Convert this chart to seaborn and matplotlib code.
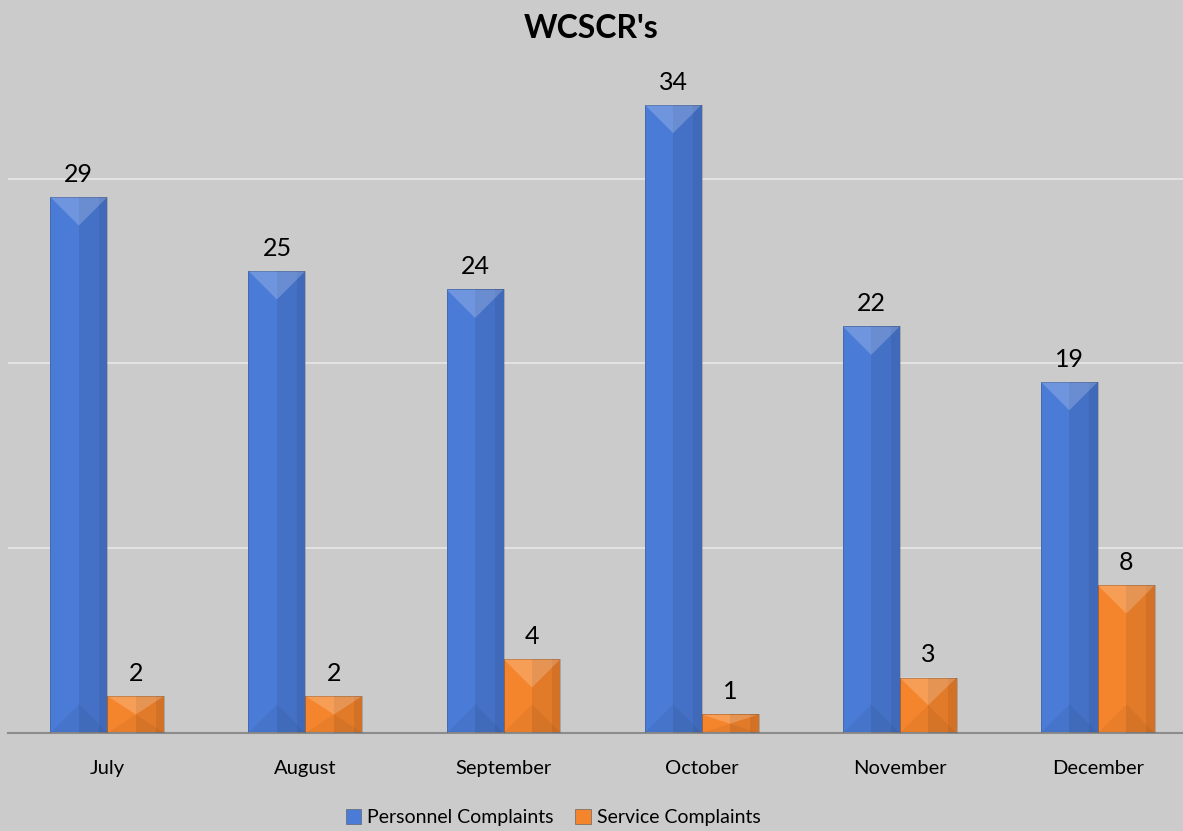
import matplotlib
matplotlib.use('Agg')

import matplotlib.pyplot as plt
import numpy as np
import pandas as pd
import seaborn as sns
from matplotlib.patches import Polygon, Rectangle

months = ['July', 'August', 'September', 'October', 'November', 'December']
personnel = [29, 25, 24, 34, 22, 19]
service = [2, 2, 4, 1, 3, 8]
series_names = ['Personnel Complaints', 'Service Complaints']

BG = '#cbcbcb'
BLUE = '#4a7bd6'
ORANGE = '#f5852d'

df = pd.DataFrame({
    'month': months * 2,
    'count': personnel + service,
    'series': [series_names[0]] * len(months) + [series_names[1]] * len(months),
})

sns.set_style('white')
plt.rcParams['font.family'] = ['Lato', 'DejaVu Sans']

fig = plt.figure(figsize=(11.83, 8.31), dpi=100, facecolor=BG)
ax = fig.add_axes([0.007, 0.118, 0.993, 0.845])
ax.set_facecolor(BG)

sns.barplot(
    data=df, x='month', y='count', hue='series', order=months,
    hue_order=series_names, palette=[BLUE, ORANGE], width=0.575,
    saturation=1, ax=ax, legend=False, edgecolor='none',
)

# bevel look: darker right half, light top triangle, dark bottom triangle
ppu = 18.47  # pixels per unit on y
px_per_x = 1175 / (5.43 + 0.5)
for bar in list(ax.patches):
    x, w, h = bar.get_x(), bar.get_width(), bar.get_height()
    tri = min((w / 2) * px_per_x / ppu, h / 2)
    ax.add_patch(Rectangle((x + w / 2, 0), w / 2, h, facecolor='black', alpha=0.08,
                           edgecolor='none', zorder=3))
    ax.add_patch(Rectangle((x + w * 0.85, 0), w * 0.15, h, facecolor='black', alpha=0.06,
                           edgecolor='none', zorder=3))
    ax.add_patch(Polygon([(x, h), (x + w, h), (x + w / 2, h - tri)],
                         facecolor='white', alpha=0.2, edgecolor='none', zorder=3))
    ax.add_patch(Polygon([(x, 0), (x + w, 0), (x + w / 2, tri)],
                         facecolor='black', alpha=0.05, edgecolor='none', zorder=3))
    ax.add_patch(Rectangle((x, 0), w, h, facecolor='none', edgecolor='#3a3a3a',
                           linewidth=0.6, alpha=0.3, zorder=4))

for cont in ax.containers:
    ax.bar_label(cont, padding=8, fontsize=18, color='black')

ax.set_ylim(0, 38)
ax.set_xlim(-0.5, 5.43)
ax.set_yticks([10, 20, 30])
ax.yaxis.grid(True, color='#e2e2e2', linewidth=1.5)
ax.set_axisbelow(True)
ax.tick_params(axis='y', left=False, labelleft=False)
ax.tick_params(axis='x', bottom=False, labelsize=14.5, pad=16, labelcolor='black')
ax.set_xlabel('')
ax.set_ylabel('')
for side in ['top', 'right', 'left']:
    ax.spines[side].set_visible(False)
ax.spines['bottom'].set_color('#8c8c8c')
ax.spines['bottom'].set_linewidth(1.5)

fig.text(0.5, 0.966, "WCSCR's", ha='center', va='center', fontsize=23,
         fontweight='bold', color='black')

handles = [Rectangle((0, 0), 1, 1, facecolor=c, edgecolor='#555555', linewidth=0.4)
           for c in [BLUE, ORANGE]]
fig.legend(handles, series_names, loc='center', bbox_to_anchor=(0.4675, 0.016),
           ncol=2, frameon=False, fontsize=14, handlelength=0.8, handleheight=0.8,
           handletextpad=0.3, columnspacing=1.1, labelcolor='black')

fig.savefig('out.png', dpi=100, facecolor=BG)
